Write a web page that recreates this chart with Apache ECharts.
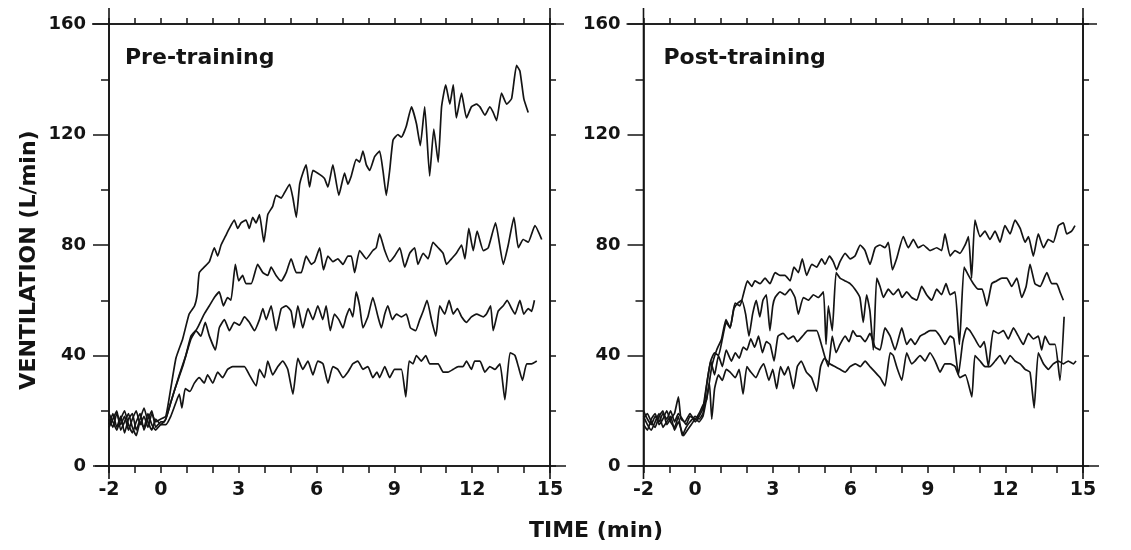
<!DOCTYPE html>
<html>
<head>
<meta charset="utf-8">
<script src="https://cdn.jsdelivr.net/npm/echarts@6/dist/echarts.min.js"></script>
<style>
  html, body { margin: 0; padding: 0; background: #ffffff; }
  #chart { width: 1131px; height: 550px; }
</style>
</head>
<body>
<div id="chart"></div>
<script>
// Axis labelling
const xTickLabels = [-2, 0, 3, 6, 9, 12, 15];
const yTickLabels = [0, 40, 80, 120, 160];
const panelTitles = ['Pre-training', 'Post-training'];
const xAxisTitle = 'TIME (min)';
const yAxisTitle = 'VENTILATION (L/min)';

// Ventilation traces, [time (min), ventilation (L/min)] — before training
const pre1 = [[-2,17],[-1.85,14],[-1.7,19],[-1.55,15],[-1.4,18],[-1.25,13],[-1.1,17],[-0.95,20],[-0.8,15],[-0.65,18],[-0.5,14],[-0.35,19],[-0.2,16],[0,17],
  [0.19,18],[0.38,28],[0.58,39],[0.84,46],[1.09,55],[1.3,58],[1.4,62],[1.48,70],[1.67,72],[1.87,74],[2.06,79],[2.19,76],[2.32,80],[2.48,83],[2.64,86],[2.83,89],[2.96,86],[3.09,88],[3.28,89],[3.41,86],[3.54,90],[3.67,88],[3.8,91],[3.97,81],[4.12,91],[4.31,94],[4.44,98],[4.64,97],[4.77,99],[4.96,102],[5.09,97],[5.22,90],[5.35,102],[5.47,106],[5.6,109],[5.73,101],[5.86,107],[6.05,106],[6.2,105],[6.31,104],[6.44,101],[6.63,109],[6.86,98],[7.08,106],[7.21,102],[7.34,105],[7.53,111],[7.66,110],[7.79,114],[7.92,109],[8.05,107],[8.24,112],[8.43,114],[8.56,107],[8.69,98],[8.82,107],[8.95,118],[9.14,120],[9.27,119],[9.46,123],[9.66,130],[9.85,124],[10.0,116],[10.17,130],[10.36,105],[10.52,122],[10.69,110],[10.82,130],[10.98,138],[11.14,131],[11.27,138],[11.39,126],[11.59,135],[11.78,126],[11.97,130],[12.17,131],[12.3,130],[12.49,127],[12.68,130],[12.81,128],[12.94,125],[13.13,135],[13.33,131],[13.52,133],[13.71,145],[13.84,143],[13.99,133],[14.16,128]];
const pre2 = [[-2,15],[-1.85,19],[-1.7,14],[-1.55,18],[-1.4,12],[-1.25,17],[-1.1,19],[-0.95,13],[-0.8,17],[-0.65,21],[-0.5,16],[-0.35,13],[-0.2,17],[0,15],
  [0.19,17],[0.35,22],[0.51,27],[0.84,36],[1.16,46],[1.41,50],[1.67,55],[1.87,58],[2.06,61],[2.25,63],[2.41,58],[2.57,61],[2.7,60],[2.87,73],[3.0,67],[3.15,69],[3.28,66],[3.48,66],[3.73,73],[3.93,70],[4.12,69],[4.25,72],[4.44,69],[4.64,67],[4.83,70],[5.02,75],[5.22,70],[5.41,70],[5.6,76],[5.8,73],[5.93,74],[6.12,79],[6.27,71],[6.44,76],[6.63,74],[6.82,75],[7.02,73],[7.21,76],[7.34,76],[7.47,70],[7.66,78],[7.92,75],[8.17,78],[8.3,79],[8.43,84],[8.63,78],[8.82,74],[9.01,76],[9.21,79],[9.4,72],[9.59,77],[9.78,79],[9.91,73],[10.11,77],[10.3,75],[10.49,81],[10.69,79],[10.88,77],[11.01,73],[11.2,75],[11.39,77],[11.59,80],[11.72,75],[11.87,86],[12.04,78],[12.19,85],[12.43,78],[12.62,79],[12.9,88],[13.2,73],[13.39,80],[13.61,90],[13.78,79],[13.97,82],[14.16,81],[14.42,87],[14.68,82]];
const pre3 = [[-2,19],[-1.85,16],[-1.7,13],[-1.55,17],[-1.4,20],[-1.25,15],[-1.1,12],[-0.95,16],[-0.8,19],[-0.65,13],[-0.5,17],[-0.35,20],[-0.2,14],[0,16],
  [0.13,16],[0.38,23],[0.71,33],[0.96,40],[1.16,47],[1.35,49],[1.54,47],[1.71,52],[1.87,47],[2.1,42],[2.25,50],[2.45,53],[2.64,49],[2.83,52],[3.03,51],[3.22,54],[3.41,52],[3.61,49],[3.8,53],[3.93,57],[4.06,53],[4.25,58],[4.44,49],[4.64,57],[4.83,58],[5.02,56],[5.13,50],[5.28,58],[5.47,50],[5.67,57],[5.86,53],[6.05,58],[6.24,53],[6.37,58],[6.53,49],[6.69,55],[6.86,53],[7.02,50],[7.14,54],[7.27,57],[7.4,54],[7.53,63],[7.66,58],[7.79,50],[7.98,54],[8.17,61],[8.37,54],[8.5,50],[8.63,55],[8.75,58],[8.92,53],[9.08,55],[9.27,54],[9.46,55],[9.62,50],[9.82,49],[9.98,53],[10.11,56],[10.26,60],[10.43,53],[10.6,47],[10.75,58],[10.94,55],[11.11,60],[11.27,55],[11.43,57],[11.59,54],[11.78,52],[11.97,54],[12.17,55],[12.43,54],[12.55,55],[12.71,58],[12.81,49],[13.0,56],[13.2,58],[13.35,60],[13.52,57],[13.65,55],[13.84,60],[13.99,55],[14.16,57],[14.29,56],[14.4,60]];
const pre4 = [[-2,14],[-1.85,17],[-1.7,20],[-1.55,13],[-1.4,16],[-1.25,19],[-1.1,14],[-0.95,11],[-0.8,16],[-0.65,14],[-0.5,19],[-0.35,15],[-0.2,13],[0,15],
  [0.19,15],[0.38,18],[0.58,23],[0.71,26],[0.81,21],[0.94,28],[1.12,27],[1.29,30],[1.48,32],[1.67,30],[1.8,33],[2.0,30],[2.19,34],[2.38,32],[2.57,35],[2.77,36],[3.03,36],[3.22,36],[3.41,33],[3.67,29],[3.8,35],[3.99,32],[4.12,38],[4.31,33],[4.51,36],[4.7,38],[4.89,35],[5.09,26],[5.28,39],[5.47,35],[5.67,38],[5.86,33],[6.05,38],[6.25,37],[6.44,30],[6.63,36],[6.82,35],[7.02,32],[7.21,34],[7.4,37],[7.59,38],[7.79,35],[7.98,36],[8.17,32],[8.33,34],[8.43,32],[8.63,36],[8.82,32],[9.01,35],[9.27,35],[9.44,25],[9.57,38],[9.72,37],[9.85,40],[10.04,38],[10.21,40],[10.36,37],[10.56,37],[10.69,37],[10.88,34],[11.07,34],[11.27,35],[11.46,36],[11.65,36],[11.78,38],[11.97,35],[12.1,38],[12.3,38],[12.49,34],[12.68,36],[12.88,35],[13.07,37],[13.26,24],[13.46,41],[13.65,40],[13.78,36],[13.94,31],[14.1,37],[14.29,37],[14.49,38]];

// Ventilation traces — after training
const post1 = [[-2,20],[-1.85,17],[-1.7,15],[-1.55,18],[-1.4,16],[-1.25,19],[-1.1,17],[-0.95,20],[-0.8,16],[-0.65,19],[-0.5,17],[-0.35,15],[-0.2,18],[0,17],[0.15,19],
  [0.3,22],[0.44,24],[0.64,36],[0.83,42],[1.02,46],[1.19,53],[1.35,50],[1.54,59],[1.73,58],[1.86,62],[2.02,67],[2.19,65],[2.31,67],[2.51,66],[2.7,68],[2.89,66],[3.09,70],[3.28,69],[3.47,69],[3.67,67],[3.82,72],[3.99,70],[4.14,75],[4.31,69],[4.51,73],[4.7,72],[4.89,75],[5.02,73],[5.19,76],[5.34,74],[5.47,71],[5.6,74],[5.8,77],[5.99,75],[6.18,76],[6.38,80],[6.57,78],[6.76,73],[6.96,79],[7.15,80],[7.34,79],[7.47,81],[7.63,71],[7.79,75],[8.05,83],[8.24,79],[8.44,82],[8.63,79],[8.82,80],[9.08,78],[9.34,79],[9.53,78],[9.66,84],[9.86,76],[10.05,78],[10.24,77],[10.44,80],[10.57,83],[10.69,68],[10.82,89],[11.02,83],[11.21,85],[11.4,82],[11.6,85],[11.79,81],[11.98,87],[12.18,84],[12.37,89],[12.57,86],[12.76,81],[12.89,83],[13.08,76],[13.27,84],[13.47,79],[13.66,82],[13.85,81],[14.05,87],[14.24,88],[14.37,84],[14.56,85],[14.69,87]];
const post2 = [[-2,17],[-1.85,19],[-1.7,16],[-1.55,14],[-1.4,18],[-1.25,20],[-1.1,15],[-0.95,17],[-0.8,19],[-0.65,25],[-0.55,17],[-0.4,16],[-0.2,19],[0,16],[0.15,18],
  [0.3,21],[0.45,30],[0.6,38],[0.75,41],[0.9,40],[1.05,46],[1.2,52],[1.35,50],[1.5,57],[1.65,59],[1.8,60],[1.95,55],[2.08,47],[2.22,55],[2.36,60],[2.5,54],[2.62,60],[2.75,62],[2.89,49],[3.0,58],[3.09,61],[3.28,63],[3.47,62],[3.67,64],[3.86,61],[3.99,55],[4.18,61],[4.38,60],[4.57,62],[4.76,61],[4.96,63],[5.06,44],[5.15,58],[5.3,49],[5.45,70],[5.6,68],[5.8,67],[5.99,66],[6.18,64],[6.37,61],[6.5,52],[6.63,62],[6.76,56],[6.89,42],[7.02,68],[7.15,65],[7.28,61],[7.47,64],[7.66,62],[7.86,64],[8.0,61],[8.18,63],[8.37,61],[8.57,60],[8.76,65],[8.95,62],[9.15,60],[9.34,64],[9.53,62],[9.7,66],[9.86,62],[10.05,63],[10.22,44],[10.4,72],[10.57,69],[10.76,66],[10.95,64],[11.1,64],[11.28,58],[11.47,66],[11.66,67],[11.86,68],[12.05,68],[12.24,65],[12.44,68],[12.63,61],[12.8,65],[12.95,73],[13.14,66],[13.34,65],[13.6,70],[13.79,66],[13.98,66],[14.11,63],[14.24,60]];
const post3 = [[-2,15],[-1.85,13],[-1.7,17],[-1.55,19],[-1.4,15],[-1.25,17],[-1.1,20],[-0.95,16],[-0.8,14],[-0.65,18],[-0.5,11],[-0.35,14],[-0.2,16],[0,18],[0.15,17],
  [0.3,19],[0.4,26],[0.5,33],[0.6,38],[0.75,33],[0.9,40],[1.05,36],[1.2,42],[1.4,38],[1.55,41],[1.7,39],[1.86,43],[2.0,42],[2.15,46],[2.3,43],[2.45,47],[2.6,41],[2.75,45],[2.9,44],[3.05,38],[3.2,47],[3.4,48],[3.6,46],[3.8,47],[3.95,45],[4.15,47],[4.35,49],[4.5,49],[4.7,49],[4.85,45],[5.0,40],[5.15,36],[5.3,47],[5.45,41],[5.6,44],[5.8,47],[5.95,45],[6.1,49],[6.25,47],[6.38,47],[6.57,45],[6.76,48],[6.96,43],[7.15,42],[7.34,50],[7.54,47],[7.73,42],[7.99,50],[8.18,44],[8.34,46],[8.5,44],[8.7,47],[8.89,48],[9.08,49],[9.28,49],[9.47,47],[9.66,44],[9.86,47],[10.0,46],[10.18,33],[10.35,45],[10.5,50],[10.63,49],[10.82,46],[11.02,43],[11.18,45],[11.34,36],[11.53,49],[11.73,48],[11.92,49],[12.11,46],[12.31,50],[12.5,47],[12.69,44],[12.89,48],[13.08,46],[13.27,47],[13.4,42],[13.53,47],[13.72,44],[13.92,44],[14.11,31],[14.27,54]];
const post4 = [[-2,18],[-1.85,15],[-1.7,13],[-1.55,16],[-1.4,19],[-1.25,14],[-1.1,16],[-0.95,18],[-0.8,13],[-0.65,16],[-0.45,11],[-0.3,13],[-0.15,15],[0,17],[0.15,16],
  [0.3,18],[0.45,25],[0.55,30],[0.64,17],[0.75,28],[0.9,33],[1.05,31],[1.2,35],[1.35,34],[1.55,32],[1.7,35],[1.85,26],[2.0,36],[2.15,34],[2.35,32],[2.5,35],[2.65,37],[2.85,31],[3.0,35],[3.15,28],[3.3,36],[3.45,33],[3.6,36],[3.8,28],[3.95,36],[4.1,38],[4.3,34],[4.5,32],[4.7,27],[4.85,36],[5.0,39],[5.2,37],[5.4,36],[5.6,35],[5.8,34],[5.99,36],[6.2,37],[6.38,36],[6.57,38],[6.76,36],[6.96,34],[7.15,32],[7.34,29],[7.54,41],[7.66,40],[7.79,36],[7.99,31],[8.18,41],[8.37,37],[8.5,38],[8.7,40],[8.89,38],[9.08,41],[9.28,38],[9.47,34],[9.66,37],[9.86,37],[10.05,36],[10.24,32],[10.45,33],[10.7,25],[10.82,40],[11.02,38],[11.21,36],[11.4,36],[11.6,38],[11.79,40],[11.98,37],[12.18,40],[12.37,38],[12.57,37],[12.76,35],[12.95,34],[13.11,21],[13.27,41],[13.47,37],[13.66,35],[13.85,37],[14.05,38],[14.24,37],[14.43,38],[14.63,37],[14.73,38]];

const panels = [[pre1, pre2, pre3, pre4], [post1, post2, post3, post4]];

const ink = '#141414';
const font = '"DejaVu Sans", "Liberation Sans", sans-serif';
const X_MIN = -2, X_MAX = 15, Y_MIN = 0, Y_MAX = 160;

const grids = [
  { left: 109, top: 24, width: 441, height: 442 },
  { left: 643.5, top: 24, width: 439.5, height: 442 }
];

const axisLine = { onZero: false, lineStyle: { color: ink, width: 1.6 } };
const tickStyle = { color: ink, width: 1.5 };

const xAxes = [], yAxes = [], series = [];
grids.forEach((g, gi) => {
  // bottom time axis with labels
  xAxes.push({
    gridIndex: gi, type: 'value', position: 'bottom', min: X_MIN, max: X_MAX, interval: 1,
    axisLine, splitLine: { show: false },
    axisTick: { length: 7, lineStyle: tickStyle },
    axisLabel: {
      margin: 15, color: ink, fontFamily: font, fontSize: 19, fontWeight: 'bold',
      showMinLabel: true, showMaxLabel: true,
      formatter: v => (xTickLabels.indexOf(v) >= 0 ? String(v) : '')
    }
  });
  // top frame edge with minute ticks
  xAxes.push({
    gridIndex: gi, type: 'value', position: 'top', min: X_MIN, max: X_MAX, interval: 1,
    axisLine, splitLine: { show: false },
    axisTick: { length: 6, lineStyle: tickStyle },
    axisLabel: { show: false }
  });
  // left ventilation axis
  yAxes.push({
    gridIndex: gi, type: 'value', position: 'left', min: Y_MIN, max: Y_MAX, interval: 40,
    axisLine, splitLine: { show: false },
    axisTick: { length: 16, lineStyle: tickStyle },
    minorTick: { show: true, splitNumber: 2, length: 8, lineStyle: tickStyle },
    minorSplitLine: { show: false },
    axisLabel: {
      margin: 23, color: ink, fontFamily: font, fontSize: 18, fontWeight: 'bold',
      formatter: v => (yTickLabels.indexOf(v) >= 0 ? String(v) : '')
    }
  });
  // right frame edge
  yAxes.push({
    gridIndex: gi, type: 'value', position: 'right', min: Y_MIN, max: Y_MAX, interval: 20,
    axisLine, splitLine: { show: false },
    axisTick: { length: 6, lineStyle: tickStyle },
    axisLabel: { show: false }
  });

  panels[gi].forEach(trace => {
    series.push({
      type: 'line', xAxisIndex: gi * 2, yAxisIndex: gi * 2,
      data: trace, showSymbol: false, symbol: 'none', smooth: 0.15,
      lineStyle: { color: ink, width: 1.7 },
      emphasis: { disabled: true }, silent: true
    });
  });
});

const chart = echarts.init(document.getElementById('chart'), null, { renderer: 'canvas' });
chart.setOption({
  animation: false,
  backgroundColor: '#ffffff',
  grid: grids,
  xAxis: xAxes,
  yAxis: yAxes,
  series
});

// Frame lines run slightly past each corner; panel titles and axis titles
const labelStyle = (size) => ({ fill: ink, font: 'bold ' + size + 'px ' + font });
const graphics = [];
grids.forEach((g, gi) => {
  const tl = chart.convertToPixel({ gridIndex: gi }, [X_MIN, Y_MAX]);
  const br = chart.convertToPixel({ gridIndex: gi }, [X_MAX, Y_MIN]);
  const seg = (x1, y1, x2, y2) => ({
    type: 'line', silent: true,
    shape: { x1, y1, x2, y2 },
    style: { stroke: ink, lineWidth: 1.6 }
  });
  graphics.push(seg(tl[0] - 17, tl[1], br[0] + 14, tl[1]));
  graphics.push(seg(tl[0] - 14, br[1], br[0] + 16, br[1]));
  graphics.push(seg(tl[0], tl[1] - 16, tl[0], br[1] + 13));
  graphics.push(seg(br[0], tl[1] - 16, br[0], br[1] + 13));
  graphics.push({
    type: 'text', silent: true,
    x: tl[0] + (gi === 0 ? 16 : 20), y: 58,
    style: Object.assign({ text: panelTitles[gi], textAlign: 'left', textVerticalAlign: 'middle' }, labelStyle(22))
  });
});
graphics.push({
  type: 'text', silent: true, x: 596, y: 531,
  style: Object.assign({ text: xAxisTitle, textAlign: 'center', textVerticalAlign: 'middle' }, labelStyle(22))
});
graphics.push({
  type: 'text', silent: true, x: 29, y: 260, rotation: Math.PI / 2,
  style: Object.assign({ text: yAxisTitle, textAlign: 'center', textVerticalAlign: 'middle' }, labelStyle(22))
});
chart.setOption({ graphic: graphics });
</script>
</body>
</html>
